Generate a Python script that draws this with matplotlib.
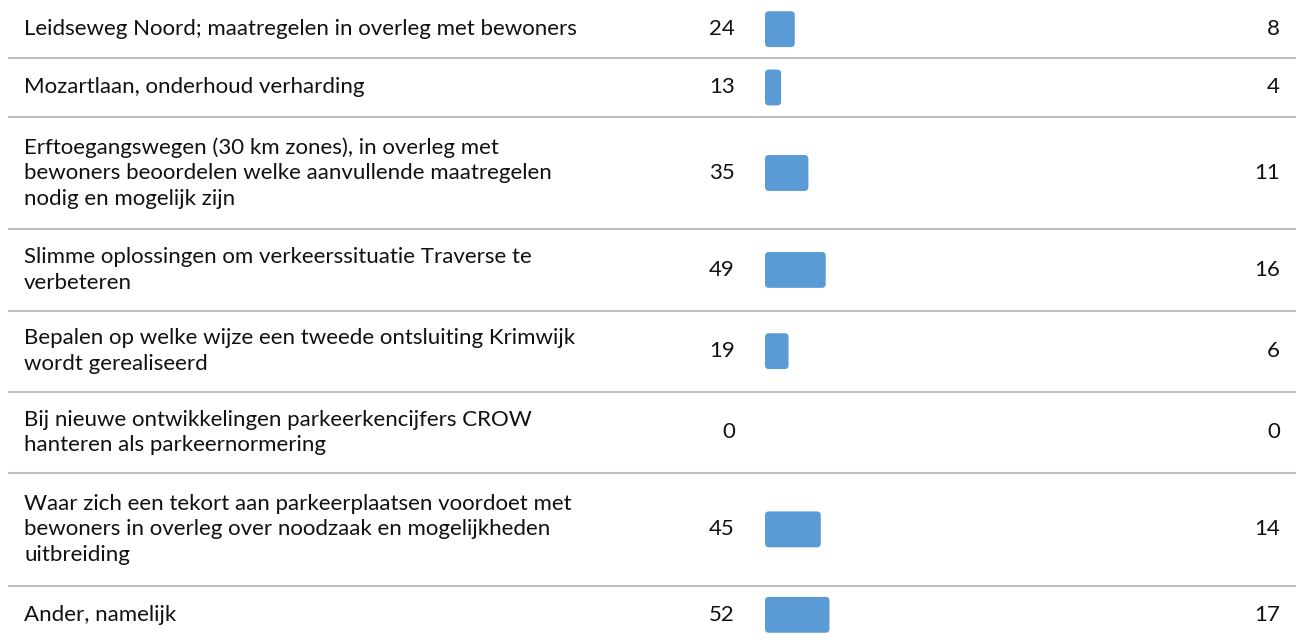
import matplotlib.pyplot as plt
from matplotlib.patches import FancyBboxPatch

# Maatregelen, aantallen en percentages
labels = [
    "Leidseweg Noord; maatregelen in overleg met bewoners",
    "Mozartlaan, onderhoud verharding",
    "Erftoegangswegen (30 km zones), in overleg met\nbewoners beoordelen welke aanvullende maatregelen\nnodig en mogelijk zijn",
    "Slimme oplossingen om verkeerssituatie Traverse te\nverbeteren",
    "Bepalen op welke wijze een tweede ontsluiting Krimwijk\nwordt gerealiseerd",
    "Bij nieuwe ontwikkelingen parkeerkencijfers CROW\nhanteren als parkeernormering",
    "Waar zich een tekort aan parkeerplaatsen voordoet met\nbewoners in overleg over noodzaak en mogelijkheden\nuitbreiding",
    "Ander, namelijk",
]
counts = [24, 13, 35, 49, 19, 0, 45, 52]
percentages = [8, 4, 11, 16, 6, 0, 14, 17]

W, H = 1296, 644
BAR_COLOR = "#5B9BD5"
LINE_COLOR = "#BFBFBF"
FONT = "Lato"
FS = 16

fig = plt.figure(figsize=(W / 100, H / 100), dpi=100)
ax = fig.add_axes([0, 0, 1, 1])

# rijhoogte hangt af van het aantal tekstregels
row_h = {1: 58.5, 2: 81.5, 3: 113}
tops = []
y = 0
for lab in labels:
    tops.append(y)
    y += row_h[lab.count("\n") + 1]
total = y
centers = [t + row_h[l.count("\n") + 1] / 2 for t, l in zip(tops, labels)]

ax.set_xlim(0, W)
ax.set_ylim(total, 0)
ax.axis("off")

# staafjes in een eigen as: 100 stemmen = 124 px
bar_x0, bar_w = 765, 124
axb = fig.add_axes([bar_x0 / W, 0, bar_w / W, 1])
axb.set_xlim(0, 100)
axb.set_ylim(total, 0)
axb.axis("off")
bar_h = 36

for i, (lab, n, p) in enumerate(zip(labels, counts, percentages)):
    yc = centers[i]
    ax.text(24, yc, lab, ha="left", va="center", fontsize=FS,
            family=FONT, color="#111111", linespacing=1.35)
    ax.text(735, yc, str(n), ha="right", va="center", fontsize=FS,
            family=FONT, color="#111111")
    ax.text(1280, yc, str(p), ha="right", va="center", fontsize=FS,
            family=FONT, color="#111111")
    if n > 0:
        box = FancyBboxPatch((0, yc - bar_h / 2), n, bar_h,
                             boxstyle="round,pad=0,rounding_size=3.2",
                             mutation_aspect=1.24,
                             facecolor=BAR_COLOR, edgecolor="none")
        axb.add_patch(box)
    if i > 0:
        ax.plot([8, W], [tops[i], tops[i]], color=LINE_COLOR, lw=1.5,
                solid_capstyle="butt")

fig.savefig("out.png", dpi=100)
